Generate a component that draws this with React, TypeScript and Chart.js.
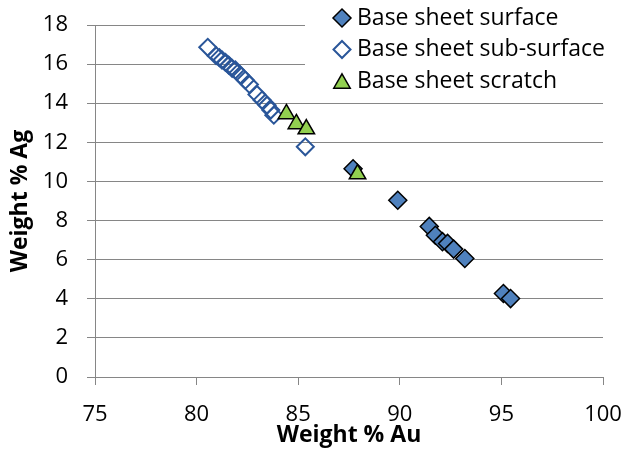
import React, { useEffect, useRef } from "react";
import { Chart, registerables } from "chart.js";
Chart.register(...registerables);

const FONT = "'Open Sans', 'Noto Sans', sans-serif";

const seriesLabels = ["Base sheet surface", "Base sheet sub-surface", "Base sheet scratch"];

const surfaceAu = [87.7, 89.9, 91.45, 91.75, 92.1, 92.35, 92.65, 93.2, 95.1, 95.45];
const surfaceAg = [10.65, 9.04, 7.7, 7.25, 6.92, 6.83, 6.54, 6.06, 4.27, 4.01];

const subAu = [80.55, 80.96, 81.12, 81.25, 81.42, 81.58, 81.75, 81.91, 82.15, 82.4, 82.6, 82.97, 83.22, 83.47, 83.65, 83.8, 85.35];
const subAg = [16.86, 16.43, 16.33, 16.21, 16.09, 15.95, 15.78, 15.7, 15.44, 15.18, 14.96, 14.45, 14.16, 13.9, 13.65, 13.39, 11.77];

const scratchAu = [84.42, 84.91, 85.4, 87.92];
const scratchAg = [13.45, 12.94, 12.68, 10.38];

const xTicks = [75, 80, 85, 90, 95, 100];
const yTicks = [0, 2, 4, 6, 8, 10, 12, 14, 16, 18];

const toPoints = (xs: number[], ys: number[]) => xs.map((x, i) => ({ x, y: ys[i] }));

function diamondPath(ctx: CanvasRenderingContext2D, x: number, y: number, r: number) {
  ctx.beginPath();
  ctx.moveTo(x, y - r);
  ctx.lineTo(x + r, y);
  ctx.lineTo(x, y + r);
  ctx.lineTo(x - r, y);
  ctx.closePath();
}
function trianglePath(ctx: CanvasRenderingContext2D, x: number, y: number, r: number) {
  ctx.beginPath();
  ctx.moveTo(x, y - r);
  ctx.lineTo(x + 0.866 * r, y + 0.5 * r);
  ctx.lineTo(x - 0.866 * r, y + 0.5 * r);
  ctx.closePath();
}

const legendPlugin = {
  id: "inlegend",
  afterDraw(chart: any) {
    const ctx: CanvasRenderingContext2D = chart.ctx;
    ctx.save();
    ctx.fillStyle = "#ffffff";
    ctx.fillRect(305, 0, 318, 90);
    const rows = [18, 49.5, 81];
    chart.data.datasets.forEach((ds: any, i: number) => {
      const cx = 342;
      const cy = rows[i];
      const r = ds.pointRadius;
      if (ds.pointStyle === "triangle") trianglePath(ctx, cx, cy + 0.25 * r, r);
      else diamondPath(ctx, cx, cy, r);
      ctx.fillStyle = ds.pointBackgroundColor;
      ctx.fill();
      ctx.lineWidth = ds.pointBorderWidth;
      ctx.strokeStyle = ds.pointBorderColor;
      ctx.stroke();
      ctx.fillStyle = "#000";
      ctx.font = `23px ${FONT}`;
      ctx.textBaseline = "middle";
      ctx.textAlign = "left";
      ctx.fillText(ds.label, 357, cy);
    });
    ctx.restore();
  },
};

export default function App() {
  const ref = useRef<HTMLCanvasElement>(null);
  useEffect(() => {
    document.body.style.margin = "0";
    const c = ref.current!;
    const chart = new Chart(c, {
      type: "scatter",
      data: {
        datasets: [
          {
            label: seriesLabels[0],
            data: toPoints(surfaceAu, surfaceAg),
            pointStyle: "rectRot",
            pointRadius: 9,
            pointBackgroundColor: "#4F81BD",
            pointBorderColor: "#000000",
            pointBorderWidth: 1.5,
            order: 2,
          },
          {
            label: seriesLabels[1],
            data: toPoints(subAu, subAg),
            pointStyle: "rectRot",
            pointRadius: 8.5,
            pointBackgroundColor: "rgba(255,255,255,0)",
            pointBorderColor: "#2A5699",
            pointBorderWidth: 2,
            order: 1,
          },
          {
            label: seriesLabels[2],
            data: toPoints(scratchAu, scratchAg),
            pointStyle: "triangle",
            pointRadius: 9.5,
            pointBackgroundColor: "#92D050",
            pointBorderColor: "#000000",
            pointBorderWidth: 1.5,
            order: 0,
          },
        ] as any,
      },
      options: {
        animation: false,
        responsive: false,
        events: [],
        layout: { padding: { left: 0, right: 20, top: 25, bottom: 0 } },
        plugins: { legend: { display: false }, tooltip: { enabled: false } },
        scales: {
          x: {
            type: "linear",
            min: 75,
            max: 100,
            afterBuildTicks: (s: any) => {
              s.ticks = xTicks.map((v) => ({ value: v }));
            },
            afterFit: (s: any) => {
              s.height = 72;
              s.paddingLeft = 0;
              s.paddingRight = 0;
            },
            ticks: { color: "#000", font: { family: FONT, size: 22 }, padding: 17 },
            grid: { drawOnChartArea: false, drawTicks: true, tickLength: 8, color: "#868686", lineWidth: 1 },
            border: { color: "#868686", width: 1 },
            title: {
              display: true,
              text: "Weight % Au",
              color: "#000",
              font: { family: FONT, size: 23, weight: "bold" },
              padding: { top: 0, bottom: 0 },
            },
          },
          y: {
            type: "linear",
            min: 0,
            max: 18,
            afterBuildTicks: (s: any) => {
              s.ticks = yTicks.map((v) => ({ value: v }));
            },
            afterFit: (s: any) => {
              s.width = 95;
              s.paddingTop = 0;
              s.paddingBottom = 0;
            },
            ticks: { color: "#000", font: { family: FONT, size: 22 }, padding: 19 },
            grid: { drawTicks: true, tickLength: 8, color: "#868686", lineWidth: 1 },
            border: { color: "#868686", width: 1 },
            title: {
              display: true,
              text: "Weight % Ag",
              color: "#000",
              font: { family: FONT, size: 23, weight: "bold" },
              padding: { top: 7, bottom: 0 },
            },
          },
        },
      } as any,
      plugins: [legendPlugin],
    });
    return () => chart.destroy();
  }, []);
  return <canvas ref={ref} width={623} height={449} style={{ display: "block" }} />;
}
